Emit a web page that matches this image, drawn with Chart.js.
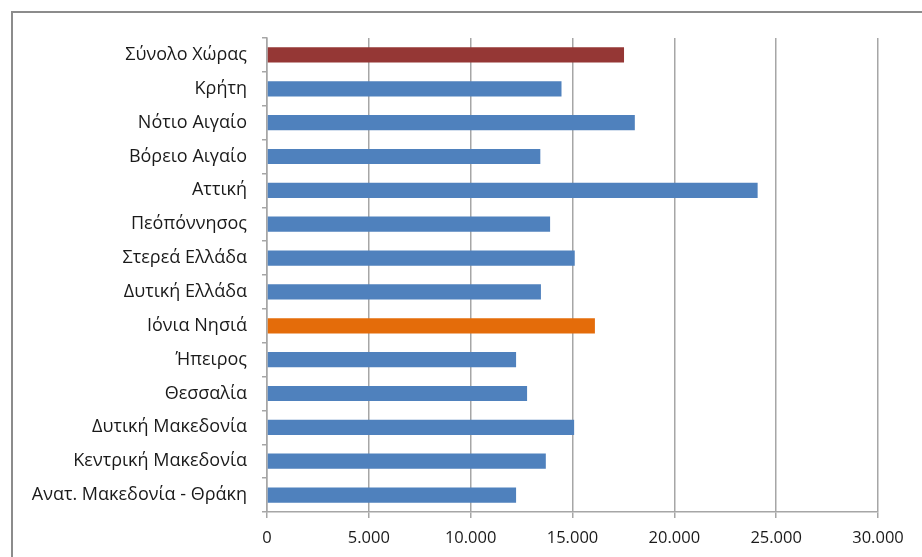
<!DOCTYPE html>
<html lang="el">
<head>
  <meta charset="UTF-8">
  <title>Περιφέρειες</title>
  <script src="https://cdn.jsdelivr.net/npm/chart.js"></script>
  <style>
    html, body { margin: 0; padding: 0; background: #fff; overflow: hidden; }
    #frame {
      position: absolute; left: 11px; top: 11px;
      width: 1000px; height: 700px;
      border-left: 2px solid #8c8c8c; border-top: 2px solid #8c8c8c;
    }
    #chart-container {
      position: absolute; left: 0; top: 0;
      width: 922px; height: 557px;
    }
  </style>
</head>
<body>
  <div id="frame"></div>
  <div id="chart-container">
    <canvas id="myChart"></canvas>
  </div>

  <script>
  // regions, top to bottom as in the picture
  const regions = [
    'Σύνολο Χώρας', 'Κρήτη', 'Νότιο Αιγαίο', 'Βόρειο Αιγαίο', 'Αττική',
    'Πεόπόννησος', 'Στερεά Ελλάδα', 'Δυτική Ελλάδα', 'Ιόνια Νησιά', 'Ήπειρος',
    'Θεσσαλία', 'Δυτική Μακεδονία', 'Κεντρική Μακεδονία', 'Ανατ. Μακεδονία - Θράκη'
  ];
  const values = [
    17530, 14460, 18060, 13420, 24090,
    13900, 15110, 13450, 16100, 12230,
    12770, 15080, 13690, 12230
  ];
  const xTicks = [0, 5000, 10000, 15000, 20000, 25000, 30000];

  const BLUE = '#4f81bd', RED = '#953735', ORANGE = '#e46c0a';
  const barColors = regions.map(r =>
    r === 'Σύνολο Χώρας' ? RED : (r === 'Ιόνια Νησιά' ? ORANGE : BLUE));

  const fmt = v => String(v).replace(/\B(?=(\d{3})+(?!\d))/g, '.');
  const GRID = '#a6a6a6';

  new Chart(document.getElementById('myChart'), {
    type: 'bar',
    data: {
      labels: regions,
      datasets: [{
        data: values,
        backgroundColor: barColors,
        borderWidth: 0,
        categoryPercentage: 1,
        barPercentage: 0.45
      }]
    },
    options: {
      indexAxis: 'y',
      responsive: true,
      maintainAspectRatio: false,
      animation: false,
      layout: { padding: { top: 38, right: 44, left: 0, bottom: 0 } },
      plugins: { legend: { display: false }, tooltip: { enabled: false } },
      scales: {
        x: {
          min: 0, max: 30000,
          afterBuildTicks: s => { s.ticks = xTicks.map(v => ({ value: v })); },
          afterFit: s => { s.height = 45; },
          grid: { color: GRID, lineWidth: 1.5, tickLength: 6 },
          border: { color: GRID, width: 1.5 },
          ticks: { color: '#1a1a1a', font: { family: 'Open Sans', size: 16.5 }, padding: 10, callback: v => fmt(v) }
        },
        y: {
          afterFit: s => { s.width = 267; },
          grid: { drawOnChartArea: false, color: GRID, lineWidth: 1.5, tickLength: 5, offset: true },
          border: { color: GRID, width: 1.5 },
          ticks: { color: '#1a1a1a', font: { family: 'Open Sans', size: 18 }, padding: 15 }
        }
      }
    }
  });
  </script>
</body>
</html>
